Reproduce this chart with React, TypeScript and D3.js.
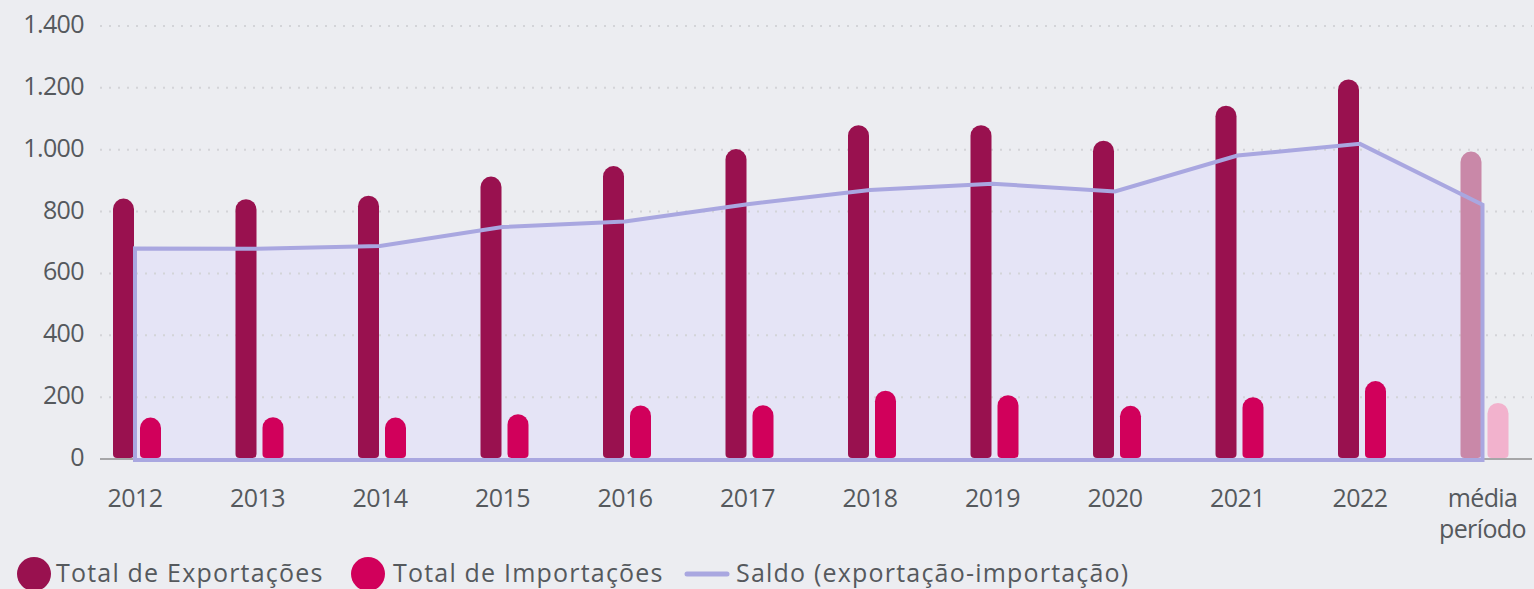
import * as d3 from 'd3';

const categories = ['2012', '2013', '2014', '2015', '2016', '2017', '2018', '2019', '2020', '2021', '2022', 'média período'];
const exportacoes = [842, 840, 851, 913, 947, 1002, 1079, 1079, 1029, 1142, 1227, 994];
const importacoes = [134, 135, 134, 145, 173, 174, 221, 206, 172, 200, 252, 181];
const saldo = [681, 680, 689, 750, 768, 824, 870, 890, 865, 981, 1019, 822];
const yTicks = [0, 200, 400, 600, 800, 1000, 1200, 1400];

const W = 1534;
const H = 589;
const FONT = '"Open Sans", sans-serif';
const TEXT = '#55595d';
const BG = '#ecedf1';
const EXP = '#99114f';
const IMP = '#d1005b';
const EXP_AVG = '#c988a8';
const IMP_AVG = '#f2b2cd';
const LINE = '#a9a7e0';
const AREA = '#e5e4f6';

const ptBR = d3.formatLocale({ decimal: ',', thousands: '.', grouping: [3], currency: ['R$', ''] });
const fmt = ptBR.format(',d');

// rounded top, small rounded bottom
function barPath(x: number, y: number, w: number, h: number, rt: number, rb: number) {
  const p = d3.path();
  p.moveTo(x, y + rt);
  p.arc(x + rt, y + rt, rt, Math.PI, 1.5 * Math.PI);
  p.lineTo(x + w - rt, y);
  p.arc(x + w - rt, y + rt, rt, 1.5 * Math.PI, 2 * Math.PI);
  p.lineTo(x + w, y + h - rb);
  p.arc(x + w - rb, y + h - rb, rb, 0, 0.5 * Math.PI);
  p.lineTo(x + rb, y + h);
  p.arc(x + rb, y + h - rb, rb, 0.5 * Math.PI, Math.PI);
  p.closePath();
  return p.toString();
}

export default function App() {
  const x = d3.scalePoint<string>().domain(categories).range([135, 1482.5]);
  const y = d3.scaleLinear().domain([0, 1400]).range([459, 26]);
  const barW = 21;
  const y0 = y(0);

  const pts: [number, number][] = categories.map((c, i) => [x(c)!, y(saldo[i])]);
  const first = pts[0];
  const last = pts[pts.length - 1];
  const poly: [number, number][] = [...pts, [last[0], y0 + 1], [first[0], y0 + 1]];
  const areaPath = d3.line()(poly) + 'Z';

  const isAvg = (i: number) => i === categories.length - 1;

  return (
    <svg width={W} height={H} style={{ position: 'absolute', left: 0, top: 0, background: BG }}>
      <rect width={W} height={H} fill={BG} />
      <path d={areaPath} fill={AREA} />

      {yTicks.filter((t) => t > 0).map((t) => (
        <line key={t} x1={100} x2={1532} y1={y(t)} y2={y(t)} stroke="#d3d4d8" strokeWidth={2} strokeDasharray="2 7" />
      ))}
      <line x1={100} x2={1532} y1={y0} y2={y0} stroke="#a6a6a8" strokeWidth={2} />

      {yTicks.map((t) => (
        <text key={t} x={84} y={y(t) + 7} textAnchor="end" fontFamily={FONT} fontSize={25} letterSpacing={-0.6} fill={TEXT}>
          {fmt(t)}
        </text>
      ))}

      {categories.map((c, i) => {
        const cx = x(c)!;
        const te = y(exportacoes[i]);
        const ti = y(importacoes[i]);
        return (
          <g key={c}>
            <path d={barPath(cx - 22, te, barW, y0 - 1 - te, 10.5, 4)} fill={isAvg(i) ? EXP_AVG : EXP} />
            <path d={barPath(cx + 5, ti, barW, y0 - 1 - ti, 10.5, 4)} fill={isAvg(i) ? IMP_AVG : IMP} />
          </g>
        );
      })}

      <path d={areaPath} fill="none" stroke={LINE} strokeWidth={4} strokeLinejoin="miter" />

      {categories.map((c) => {
        const words = c.split(' ');
        return (
          <text key={c} x={x(c)!} y={507} textAnchor="middle" fontFamily={FONT} fontSize={25} letterSpacing={-0.6} fill={TEXT}>
            {words.map((w, j) => (
              <tspan key={j} x={x(c)!} dy={j === 0 ? 0 : 31}>{w}</tspan>
            ))}
          </text>
        );
      })}

      <g fontFamily={FONT} fontSize={25} letterSpacing={1.2} fill={TEXT}>
        <circle cx={34} cy={574} r={17} fill={EXP} />
        <text x={56} y={582}>Total de Exportações</text>
        <circle cx={368} cy={574} r={17} fill={IMP} />
        <text x={393} y={582}>Total de Importações</text>
        <line x1={687} x2={727} y1={574} y2={574} stroke={LINE} strokeWidth={5} strokeLinecap="round" />
        <text x={736} y={582}>Saldo (exportação-importação)</text>
      </g>
    </svg>
  );
}
